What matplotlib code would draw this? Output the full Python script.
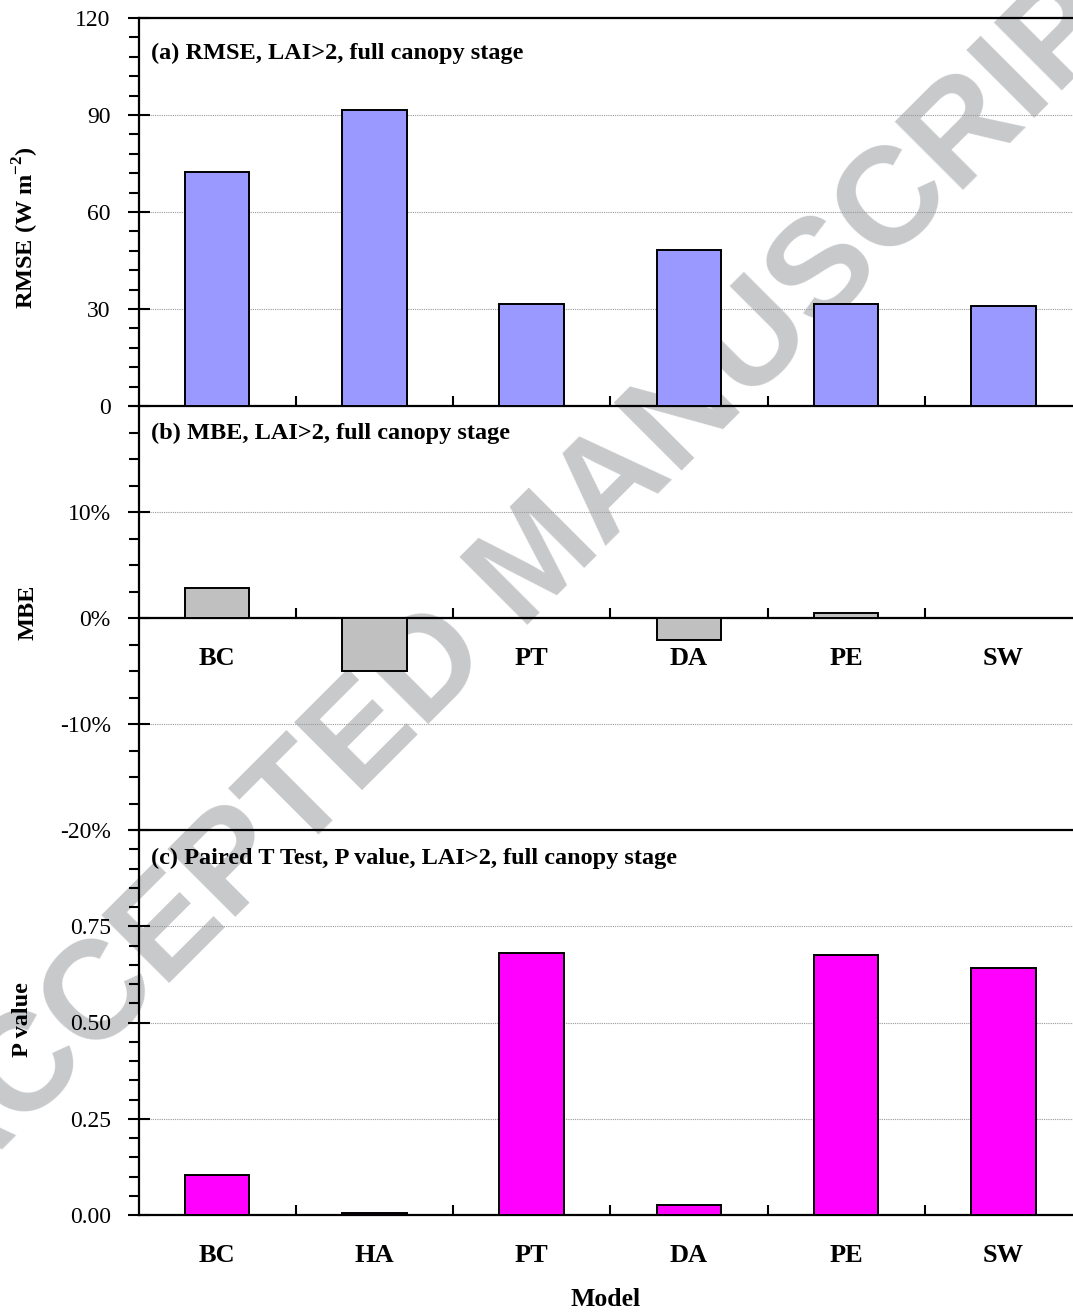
import matplotlib
matplotlib.use("Agg")
import matplotlib.pyplot as plt
from matplotlib.ticker import MultipleLocator, FixedLocator, FuncFormatter

models = ["BC", "HA", "PT", "DA", "PE", "SW"]
rmse = [72.4, 91.5, 31.5, 48.2, 31.6, 31.0]          # W m-2
mbe = [2.8, -5.0, 0.0, -2.1, 0.5, 0.0]               # %
p_value = [0.105, 0.005, 0.680, 0.026, 0.675, 0.642]

plt.rcParams['font.family'] = ['Liberation Serif', 'DejaVu Serif']
plt.rcParams['font.size'] = 17
plt.rcParams['mathtext.fontset'] = 'custom'
plt.rcParams['mathtext.bf'] = 'Liberation Serif:bold'
plt.rcParams['mathtext.rm'] = 'Liberation Serif'

W, H = 1073, 1314
fig = plt.figure(figsize=(W / 100, H / 100), dpi=100)

# watermark, drawn below the axes
fig.text(540 / W, 1 - 562 / H, "ACCEPTED MANUSCRIPT", rotation=45,
         ha='center', va='center', fontsize=101, fontweight='bold',
         family='Liberation Sans', color='#c8c9cb', zorder=-1)

left, right = 138.5 / W, 1082 / W
def box(top, bottom):
    return [left, 1 - bottom / H, right - left, (bottom - top) / H]

ax1 = fig.add_axes(box(18, 406))
ax2 = fig.add_axes(box(406, 830))
ax3 = fig.add_axes(box(830, 1215))

x = list(range(len(models)))
ax1.bar(x, rmse, width=0.41, color='#9999ff', edgecolor='black', linewidth=1.4, zorder=3)
ax2.bar(x, mbe, width=0.41, color='#c0c0c0', edgecolor='black', linewidth=1.4, zorder=3)
ax3.bar(x, p_value, width=0.41, color='#ff00ff', edgecolor='black', linewidth=1.4, zorder=3)

ax1.set_ylim(0, 120)
ax1.yaxis.set_major_locator(MultipleLocator(30))
ax1.yaxis.set_minor_locator(MultipleLocator(6))

ax2.set_ylim(-20, 20)
ax2.yaxis.set_major_locator(FixedLocator([-20, -10, 0, 10]))
ax2.yaxis.set_minor_locator(MultipleLocator(2.5))
ax2.yaxis.set_major_formatter(FuncFormatter(lambda v, p: f"{v:.0f}%"))

ax3.set_ylim(0, 1)
ax3.yaxis.set_major_locator(FixedLocator([0, 0.25, 0.5, 0.75]))
ax3.yaxis.set_minor_locator(MultipleLocator(0.05))
ax3.yaxis.set_major_formatter(FuncFormatter(lambda v, p: f"{v:.2f}"))

titles = ["(a) RMSE, LAI>2, full canopy stage",
          "(b) MBE, LAI>2, full canopy stage",
          "(c) Paired T Test, P value, LAI>2, full canopy stage"]
title_y = [0.91, 0.936, 0.927]

for ax, t, ty in zip([ax1, ax2, ax3], titles, title_y):
    ax.set_facecolor('none')
    ax.set_xlim(-0.5, 5.5)
    ax.set_xticks(x)
    ax.xaxis.set_minor_locator(FixedLocator([0.5, 1.5, 2.5, 3.5, 4.5]))
    ax.tick_params(axis='x', which='major', length=0, pad=21, labelsize=19)
    ax.tick_params(axis='x', which='minor', direction='in', length=7, width=1.5)
    ax.tick_params(axis='y', which='major', direction='inout', length=16, width=1.5,
                   pad=12, labelsize=17)
    ax.tick_params(axis='y', which='minor', direction='out', length=7, width=1.5)
    ax.yaxis.grid(True, which='major', color='0.6', linestyle=(0, (1, 1)), linewidth=0.8, zorder=0)
    for s in ax.spines.values():
        s.set_linewidth(1.6)
    ax.text(0.013, ty, t, transform=ax.transAxes, fontweight='bold',
            fontsize=17.5, ha='left', va='center', zorder=5)

ax1.set_xticklabels([])
ax2.spines['bottom'].set_position(('data', 0))
ax2.spines['top'].set_visible(False)

ax2.set_xticklabels(models, fontweight='bold')
ax3.set_xticklabels(models, fontweight='bold')

fig.text(26 / W, 1 - 228 / H, "RMSE (W m$^{\\mathbf{-2}}$)", rotation=90,
         ha='center', va='center', fontweight='bold', fontsize=17.5)
fig.text(28 / W, 1 - 612 / H, "MBE", rotation=90,
         ha='center', va='center', fontweight='bold', fontsize=17.5)
fig.text(22 / W, 1 - 1020 / H, "P value", rotation=90,
         ha='center', va='center', fontweight='bold', fontsize=17.5)
fig.text(606 / W, 1 - 1300 / H, "Model", ha='center', va='center',
         fontweight='bold', fontsize=18.5)

fig.savefig("out.png", dpi=100)
